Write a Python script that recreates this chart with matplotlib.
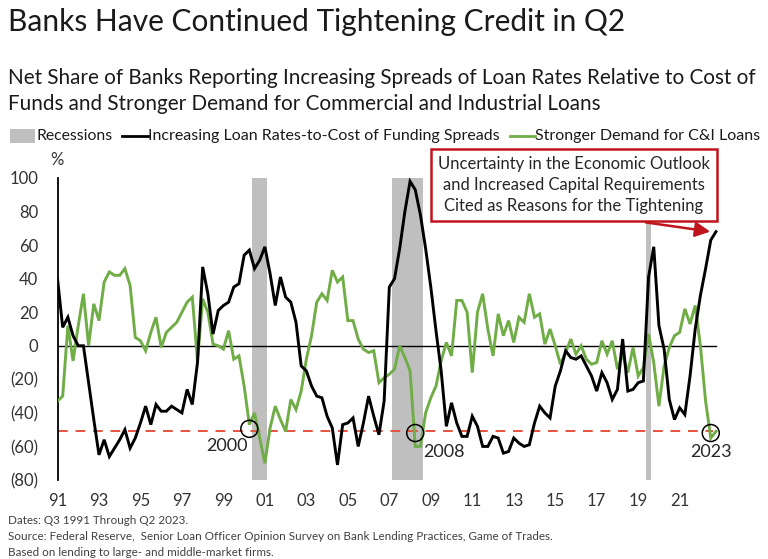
import matplotlib
matplotlib.use("Agg")
import matplotlib.pyplot as plt
from matplotlib.patches import FancyArrowPatch
import numpy as np

plt.rcParams['font.family'] = ['Lato', 'DejaVu Sans']

# ---- data (quarterly, Q3 1991 .. Q2 2023) ----
spreads = [40, 11, 17, 6, 0, 0, -22, -44, -65, -56, -66, -61, -56, -50, -61, -55,
           -46, -36, -47, -35, -39, -39, -36, -38, -40, -26, -35, -10, 47, 31, 7, 21,
           24, 26, 35, 37, 54, 57, 46, 51, 59, 43, 24, 41, 29, 26, 14, -12,
           -15, -24, -30, -31, -42, -49, -71, -47, -46, -43, -60, -46, -30, -42, -53, -33,
           35, 40, 58, 80, 98, 93, 78, 58, 35, 9, -15, -48, -34, -46, -54, -54,
           -42, -48, -60, -60, -54, -55, -64, -63, -55, -58, -60, -59, -46, -36, -40, -43,
           -24, -15, -3, -7, -8, -6, -12, -18, -27, -16, -22, -32, -26, 4, -27, -26,
           -22, -21, 41, 59, 12, -2, -32, -44, -37, -41, -18, 10, 30, 46, 63, 68]
demand = [-33, -30, 12, -9, 12, 31, 0, 25, 15, 38, 44, 42, 42, 46, 36, 5,
          3, -3, 8, 17, -1, 8, 11, 14, 20, 26, 29, -9, 28, 20, 1, 0,
          -2, 9, -8, -6, -24, -47, -40, -55, -70, -49, -36, -44, -51, -32, -38, -27,
          -8, 6, 26, 31, 27, 45, 38, 41, 15, 15, 4, -2, -4, -3, -22, -19,
          -17, -14, 0, -7, -15, -60, -60, -40, -31, -24, -9, 2, -6, 27, 27, 20,
          -16, 20, 31, 10, -6, 19, 6, 15, 2, 17, 14, 31, 17, 19, 1, 10,
          0, -11, -4, 4, -5, 0, -8, -11, -10, 3, -5, 3, -14, -5, -16, -1,
          -18, -13, 7, -10, -36, -12, -1, 6, 8, 22, 13, 24, 0, -33, -55, -51]
# recession quarters (index into the quarterly series)
recessions = [(38, 40), (65, 70), (114, 114)]
tick_labels = ['91', '93', '95', '97', '99', '01', '03', '05', '07', '09',
               '11', '13', '15', '17', '19', '21']
threshold = -51
circled = [(37, -49.5, '2000'), (69, -52, '2008'), (126, -52, '2023')]

n = len(spreads)
x = np.arange(n)

W, H = 768, 559
fig = plt.figure(figsize=(W / 100, H / 100), dpi=100)
fig.patch.set_facecolor('white')

def fx(px):
    return px / W

def fy(py):
    return 1 - py / H

ax = fig.add_axes([fx(57.5), 79 / H, 679.2 / W, 302 / H])
ax.set_xlim(0, 131)
ax.set_ylim(-80, 100)

for a, b in recessions:
    ax.axvspan(a - 0.5, b + 0.5, ymin=0, ymax=1, color='#BFBFBF', lw=0, zorder=1)

ax.plot([0, n - 1], [0, 0], color='black', lw=1.0, zorder=2)
ax.plot([0, n - 1.5], [threshold, threshold], color='#E5533F', lw=1.4,
        dashes=(5, 4), zorder=2)
ax.plot(x, demand, color='#70AD47', lw=2.1, zorder=3, solid_joinstyle='miter')
ax.plot(x, spreads, color='black', lw=2.1, zorder=4, solid_joinstyle='miter')

for cx, cy, lab in circled:
    ax.scatter([cx], [cy], s=150, facecolors='none', edgecolors='black',
               linewidths=1.1, zorder=5)

ax.text(32.7, -60, '2000', ha='center', va='center', fontsize=13, color='#262626')
ax.text(74.5, -63.5, '2008', ha='center', va='center', fontsize=13, color='#262626')
ax.text(126, -63.5, '2023', ha='center', va='center', fontsize=13, color='#262626')

ax.set_yticks(np.arange(-80, 101, 20))
ax.set_yticklabels([('(%d)' % -v) if v < 0 else str(v) for v in np.arange(-80, 101, 20)])
ax.set_xticks(np.arange(0, 8 * len(tick_labels), 8))
ax.set_xticklabels(tick_labels)
ax.tick_params(axis='both', length=0, labelsize=12, colors='#333333')
ax.tick_params(axis='y', pad=14)
ax.tick_params(axis='x', pad=9)
for s in ['top', 'right', 'bottom']:
    ax.spines[s].set_visible(False)
ax.spines['left'].set_color('black')
ax.spines['left'].set_linewidth(1.3)
ax.patch.set_alpha(0)

# annotation box
fig.text(fx(574), fy(185), 'Uncertainty in the Economic Outlook\nand Increased Capital Requirements\nCited as Reasons for the Tightening',
         ha='center', va='center', fontsize=12, color='#262626', linespacing=1.35,
         bbox=dict(boxstyle='square,pad=0.45', fc='white', ec='#C0141C', lw=1.8))
arrow = FancyArrowPatch((fx(643), fy(222)), (fx(713), fy(232)), transform=fig.transFigure,
                        arrowstyle='-|>,head_length=6,head_width=3', color='#C0141C', lw=1.8,
                        mutation_scale=1.5)
fig.patches.append(arrow)

# titles
fig.text(fx(8), fy(22), 'Banks Have Continued Tightening Credit in Q2', ha='left', va='center',
         fontsize=21.5, color='#1a1a1a')
fig.text(fx(8), fy(91), 'Net Share of Banks Reporting Increasing Spreads of Loan Rates Relative to Cost of\nFunds and Stronger Demand for Commercial and Industrial Loans',
         ha='left', va='center', fontsize=14.9, color='#1a1a1a', linespacing=1.42)

# legend
ly = fy(136)
fig.patches.append(plt.Rectangle((fx(10), fy(143)), fx(25), 14 / H, transform=fig.transFigure,
                                 color='#BFBFBF', lw=0))
fig.text(fx(36), ly, 'Recessions', ha='left', va='center', fontsize=11.3, color='#1a1a1a')
fig.lines.append(plt.Line2D([fx(122), fx(148)], [ly, ly], transform=fig.transFigure,
                            color='black', lw=2))
fig.text(fx(148), ly, 'Increasing Loan Rates-to-Cost of Funding Spreads', ha='left', va='center',
         fontsize=11.5, color='#1a1a1a')
fig.lines.append(plt.Line2D([fx(510), fx(535)], [ly, ly], transform=fig.transFigure,
                            color='#70AD47', lw=2))
fig.text(fx(535), ly, 'Stronger Demand for C&I Loans', ha='left', va='center',
         fontsize=11.5, color='#1a1a1a')

fig.text(fx(57), fy(160), '%', ha='center', va='center', fontsize=12, color='#333333')

# footer
foot = ['Dates: Q3 1991 Through Q2 2023.',
        'Source: Federal Reserve,  Senior Loan Officer Opinion Survey on Bank Lending Practices, Game of Trades.',
        'Based on lending to large- and middle-market firms.']
for k, t in enumerate(foot):
    fig.text(fx(8), fy(520 + 16.5 * k), t, ha='left', va='center', fontsize=8.4,
             color='#404040')

fig.savefig('out.png', dpi=100)
